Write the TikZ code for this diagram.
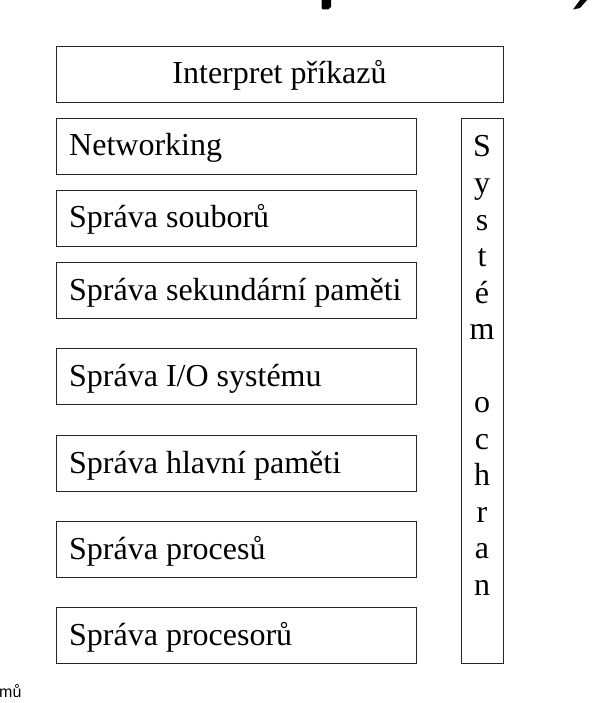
\documentclass[tikz,border=0pt]{standalone}
\usepackage{fontspec}
\setmainfont{Liberation Serif}
\newfontfamily\pozn{Liberation Sans}
\usepackage{tikz}
\usetikzlibrary{positioning}

\begin{document}
\begin{tikzpicture}[x=1pt,y=-1pt,
		box/.style={draw=black!85,line width=0.9pt,minimum height=56pt,inner sep=0pt},
		modul/.style={box,minimum width=360pt},
		popis/.style={anchor=base west,font=\fontsize{32}{36}\selectfont,inner sep=0pt},
		pismeno/.style={anchor=base,font=\fontsize{32}{36}\selectfont,inner sep=0pt}]
		
		\useasboundingbox (0,0) rectangle (612,703);
		
		% interpret
		\node[box,minimum width=447pt] (interp) at (279.5,74) {};
		\node[anchor=base,font=\fontsize{32}{36}\selectfont,inner sep=0pt] (interptext) at (279.5,84) {Interpret příkazů};
		
		% moduly vlevo
		\foreach \jm/\y/\t in {
			net/146/Networking,
			soub/218/Správa souborů,
			sek/290/Správa sekundární paměti,
			io/376/{Správa I/O systému},
			hlav/463/Správa hlavní paměti,
			proc/549/Správa procesů,
			cpu/635/Správa procesorů
		}
		{
			\node[modul] (\jm) at (236,\y) {};
			\node[popis] (\jm text) at (69,\y+10) {\t};
		}
		
		% system ochran
		\node[draw=black!85,line width=0.9pt,minimum width=42pt,minimum height=545pt,inner sep=0pt] (ochr) at (482,390.5) {};
		\foreach \p [count=\i] in {S,y,s,t,é,m,{},o,c,h,r,a,n}
		\node[pismeno] (ochr\i) at (482,{157+(\i-1)*36.5}) {\p};
		
		% zbytky nadpisu a poznamky
		\fill (321.5,0) -- (331,0) -- (331,7) -- (328,9.5) -- (322.5,9.5) -- (321.5,7) -- cycle;
		\fill (580,0) -- (587,0) -- (580,8) -- (573,9.5) -- cycle;
		\node[anchor=base west,font=\pozn\fontsize{16}{18}\selectfont,inner sep=0pt] (mu) at (-1,697) {mů};
		
	\end{tikzpicture}
\end{document}
